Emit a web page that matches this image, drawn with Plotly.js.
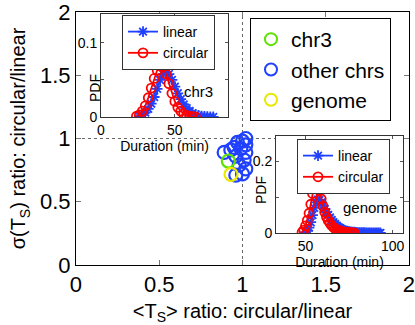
<!DOCTYPE html>
<html>
<head>
<meta charset="utf-8">
<script src="https://cdn.plot.ly/plotly-3.0.1.min.js"></script>
<style>
  html, body { margin: 0; padding: 0; background: white; }
  #chart { width: 415px; height: 325px; }
</style>
</head>
<body>
<div id="chart"></div>
<script>
// main scatter: ratios circular/linear
const otherX = [1.02, 1.00, 0.97, 1.02, 0.95, 0.99, 1.02, 0.89, 0.96, 1.01, 0.98, 1.02, 0.96, 1.00, 0.93];
const otherY = [1.00, 0.98, 0.97, 0.95, 0.93, 0.92, 0.89, 0.89, 0.86, 0.83, 0.79, 0.76, 0.71, 0.72, 0.91];
const chr3X = [0.915];
const chr3Y = [0.822];
const genomeX = [0.931];
const genomeY = [0.717];

// inset 1: chr3 duration PDF
const chr3CircX = [24, 26, 28, 30, 32, 34, 36, 38, 40, 42, 44, 46, 48, 50, 52, 54, 56, 58, 60, 62, 64];
const chr3CircY = [0.001, 0.003, 0.008, 0.015, 0.026, 0.039, 0.052, 0.063, 0.069, 0.068, 0.058, 0.045, 0.032, 0.021, 0.013, 0.008, 0.004, 0.002, 0.001, 0.0005, 0.0002];
const chr3LinX = [26, 28, 30, 32, 34, 36, 38, 40, 42, 44, 46, 48, 50, 52, 54, 56, 58, 60, 62, 64, 66, 68, 70, 72, 74, 76];
const chr3LinY = [0.001, 0.003, 0.006, 0.011, 0.018, 0.027, 0.038, 0.05, 0.058, 0.061, 0.058, 0.05, 0.041, 0.032, 0.024, 0.017, 0.012, 0.008, 0.005, 0.003, 0.002, 0.001, 0.0008, 0.0005, 0.0003, 0.0001];

// inset 2: genome duration PDF
const genCircX = [48, 49, 50, 51, 52, 53, 54, 55, 56, 57, 58, 59, 60, 61, 62, 63, 64, 65, 66, 67, 68, 69, 70, 71, 72, 73, 74, 75, 76, 77, 78];
const genCircY = [0.002, 0.008, 0.02, 0.035, 0.055, 0.08, 0.11, 0.133, 0.14, 0.135, 0.118, 0.095, 0.075, 0.058, 0.045, 0.035, 0.027, 0.021, 0.016, 0.012, 0.009, 0.007, 0.005, 0.004, 0.003, 0.002, 0.0015, 0.001, 0.0007, 0.0004, 0.0002];
const genLinX = [50, 51, 52, 53, 54, 55, 56, 57, 58, 59, 60, 61, 62, 63, 64, 65, 66, 67, 68, 69, 70, 71, 72, 73, 74, 75, 76, 77, 78, 79, 80, 81, 82, 83, 84, 85, 86, 87, 88, 89, 90, 91, 92, 93];
const genLinY = [0.002, 0.006, 0.015, 0.03, 0.05, 0.07, 0.085, 0.093, 0.092, 0.085, 0.076, 0.067, 0.058, 0.05, 0.043, 0.036, 0.03, 0.025, 0.02, 0.016, 0.013, 0.01, 0.008, 0.006, 0.005, 0.004, 0.003, 0.0025, 0.002, 0.0015, 0.001, 0.0009, 0.0008, 0.0007, 0.0006, 0.0005, 0.0004, 0.0003, 0.0003, 0.0002, 0.0002, 0.0001, 0.0001, 0];

const FONT = 'Liberation Sans, Arial, sans-serif';
const BLUE = '#2040ff';
const RED = '#ff0000';

function circles(x, y, name, color, rank) {
    return {
        type: 'scatter', mode: 'markers', x: x, y: y, name: name,
        xaxis: 'x', yaxis: 'y', legendrank: rank,
        marker: { symbol: 'circle-open', size: 13, color: color, line: { width: 2.2, color: color } },
        hoverinfo: 'none'
    };
}

function pdfTrace(x, y, name, color, symbol, xa, ya, leg) {
    return {
        type: 'scatter', mode: 'lines+markers', x: x, y: y, name: name,
        xaxis: xa, yaxis: ya, legend: leg,
        line: { color: color, width: 1.8 },
        marker: { symbol: symbol, size: 9, color: color, line: { width: 1.8, color: color } },
        hoverinfo: 'none'
    };
}

const data = [
    circles(otherX, otherY, 'other chrs', BLUE, 2),
    circles(chr3X, chr3Y, 'chr3', '#5ee000', 1),
    circles(genomeX, genomeY, 'genome', '#e8e800', 3),
    pdfTrace(chr3LinX, chr3LinY, 'linear', BLUE, 'asterisk-open', 'x2', 'y2', 'legend2'),
    pdfTrace(chr3CircX, chr3CircY, 'circular', RED, 'circle-open', 'x2', 'y2', 'legend2'),
    pdfTrace(genLinX, genLinY, 'linear', BLUE, 'asterisk-open', 'x3', 'y3', 'legend3'),
    pdfTrace(genCircX, genCircY, 'circular', RED, 'circle-open', 'x3', 'y3', 'legend3')
];

const mainAxis = {
    range: [0, 2], tickvals: [0, 0.5, 1, 1.5, 2], ticktext: ['0', '0.5', '1', '1.5', '2'],
    ticks: 'inside', ticklen: 5, tickcolor: '#777', mirror: 'ticks',
    showline: true, linecolor: 'black', linewidth: 1,
    showgrid: false, zeroline: false, ticklabeloverflow: 'allow',
    tickfont: { family: FONT, size: 22, color: 'black' }
};

function insetAxis(extra) {
    return Object.assign({
        ticks: 'inside', ticklen: 3, tickcolor: '#555', mirror: 'ticks',
        showline: true, linecolor: '#333', linewidth: 1,
        showgrid: false, zeroline: false, ticklabeloverflow: 'allow',
        tickfont: { family: FONT, size: 14, color: 'black' }
    }, extra);
}

const smallLegend = {
    bordercolor: '#333', borderwidth: 1, bgcolor: 'white',
    font: { family: FONT, size: 14, color: 'black' },
    xanchor: 'left', yanchor: 'top', tracegroupgap: 0
};

const layout = {
    width: 415, height: 325,
    margin: { l: 0, r: 0, t: 0, b: 0 },
    paper_bgcolor: 'white', plot_bgcolor: 'white',
    font: { family: FONT, color: 'black' },
    xaxis: Object.assign({}, mainAxis, {
        domain: [0.1831, 0.9855], anchor: 'y',
        title: { text: '&lt;T<sub>S</sub>&gt; ratio: circular/linear', font: { family: FONT, size: 20 }, standoff: 8 }
    }),
    yaxis: Object.assign({}, mainAxis, {
        domain: [0.1846, 0.9631], anchor: 'x',
        title: { text: 'σ(T<sub>S</sub>) ratio: circular/linear', font: { family: FONT, size: 20 }, standoff: 8 }
    }),
    xaxis2: insetAxis({
        domain: [0.2434, 0.5494], anchor: 'y2', range: [0, 86], tickvals: [0, 50, 100],
        title: { text: 'Duration (min)', font: { family: FONT, size: 14 }, standoff: 2 }
    }),
    yaxis2: insetAxis({
        domain: [0.64, 0.9569], anchor: 'x2', range: [0, 0.139], tickvals: [0, 0.1],
        minor: { tickvals: [0.05], ticks: 'inside', ticklen: 3, tickcolor: '#555', showgrid: false }
    }),
    xaxis3: insetAxis({
        domain: [0.665, 0.9711], anchor: 'y3', range: [33, 106], tickvals: [50, 100],
        title: { text: 'Duration (min)', font: { family: FONT, size: 14 }, standoff: 2 }
    }),
    yaxis3: insetAxis({
        domain: [0.2831, 0.5815], anchor: 'x3', range: [0, 0.27], tickvals: [0, 0.2],
        minor: { tickvals: [0.1], ticks: 'inside', ticklen: 3, tickcolor: '#555', showgrid: false }
    }),
    legend: {
        x: 0.6024, y: 0.9446, xanchor: 'left', yanchor: 'top',
        bordercolor: 'black', borderwidth: 1, bgcolor: 'white',
        font: { family: FONT, size: 21, color: 'black' },
        itemsizing: 'constant'
    },
    legend2: Object.assign({}, smallLegend, { x: 0.294, y: 0.9538 }),
    legend3: Object.assign({}, smallLegend, { x: 0.7157, y: 0.5723 }),
    shapes: [
        { type: 'line', xref: 'x', yref: 'y', x0: 1, x1: 1, y0: 0, y1: 2, layer: 'below', line: { color: '#666', width: 1, dash: 'dot' } },
        { type: 'line', xref: 'x', yref: 'y', x0: 0, x1: 2, y0: 1, y1: 1, layer: 'below', line: { color: '#666', width: 1, dash: 'dot' } }
    ],
    annotations: [
        { xref: 'x2', yref: 'y2', x: 65.8, y: 0.034, text: 'chr3', showarrow: false, font: { family: FONT, size: 15 } },
        { xref: 'x3', yref: 'y3', x: 87.2, y: 0.07, text: 'genome', showarrow: false, font: { family: FONT, size: 15 } },
        { xref: 'paper', yref: 'paper', x: 0.2048, y: 0.7785, text: 'PDF', textangle: -90, showarrow: false, font: { family: FONT, size: 14 } },
        { xref: 'paper', yref: 'paper', x: 0.6289, y: 0.4154, text: 'PDF', textangle: -90, showarrow: false, font: { family: FONT, size: 14 } }
    ]
};

Plotly.newPlot('chart', data, layout, { displayModeBar: false, staticPlot: true });
</script>
</body>
</html>
